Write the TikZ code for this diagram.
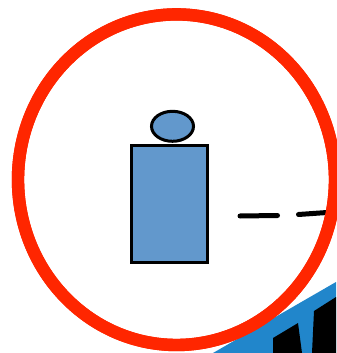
\documentclass[tikz,border=0pt]{standalone}
\usepackage{tikz}
\definecolor{RingRed}{RGB}{255,38,0}
\definecolor{PersonBlue}{RGB}{98,152,204}
\definecolor{GroundBlue}{RGB}{33,134,203}
\begin{document}
\begin{tikzpicture}[x=0.025cm,y=-0.025cm]
		\useasboundingbox (0,0) rectangle (336,353);
		\fill[white] (0,0) rectangle (336,353);
		
		% Sudut kanan bawah
		\fill[GroundBlue] (213,353)--(336,282)--(336,353)--cycle;
		\fill[black] (273,353)--(273,338)--(298,323)--(302,353)--(312,353)--(314,311)--(336,297)--(336,353)--cycle;
		
		% Lingkaran merah
		\draw[RingRed,line width=0.31cm,fill=white] (176.5,179.7) ellipse [x radius=158.5,y radius=165.3];
		
		% Orang
		\draw[black,line width=0.075cm,fill=PersonBlue] (131.5,146) rectangle (207.5,262.5);
		\draw[black,line width=0.075cm,fill=PersonBlue] (172.5,126.3) ellipse [x radius=21,y radius=15];
		
		% Garis putus-putus
		\draw[black,line width=0.125cm,line cap=round] (240,216)--(277.5,215.5);
		\draw[black,line width=0.125cm,line cap=round] (298.5,214.5)--(327,212.5);
		\draw[RingRed,line width=0.31cm] (176.5,179.7) ellipse [x radius=158.5,y radius=165.3];
	\end{tikzpicture}
\end{document}
